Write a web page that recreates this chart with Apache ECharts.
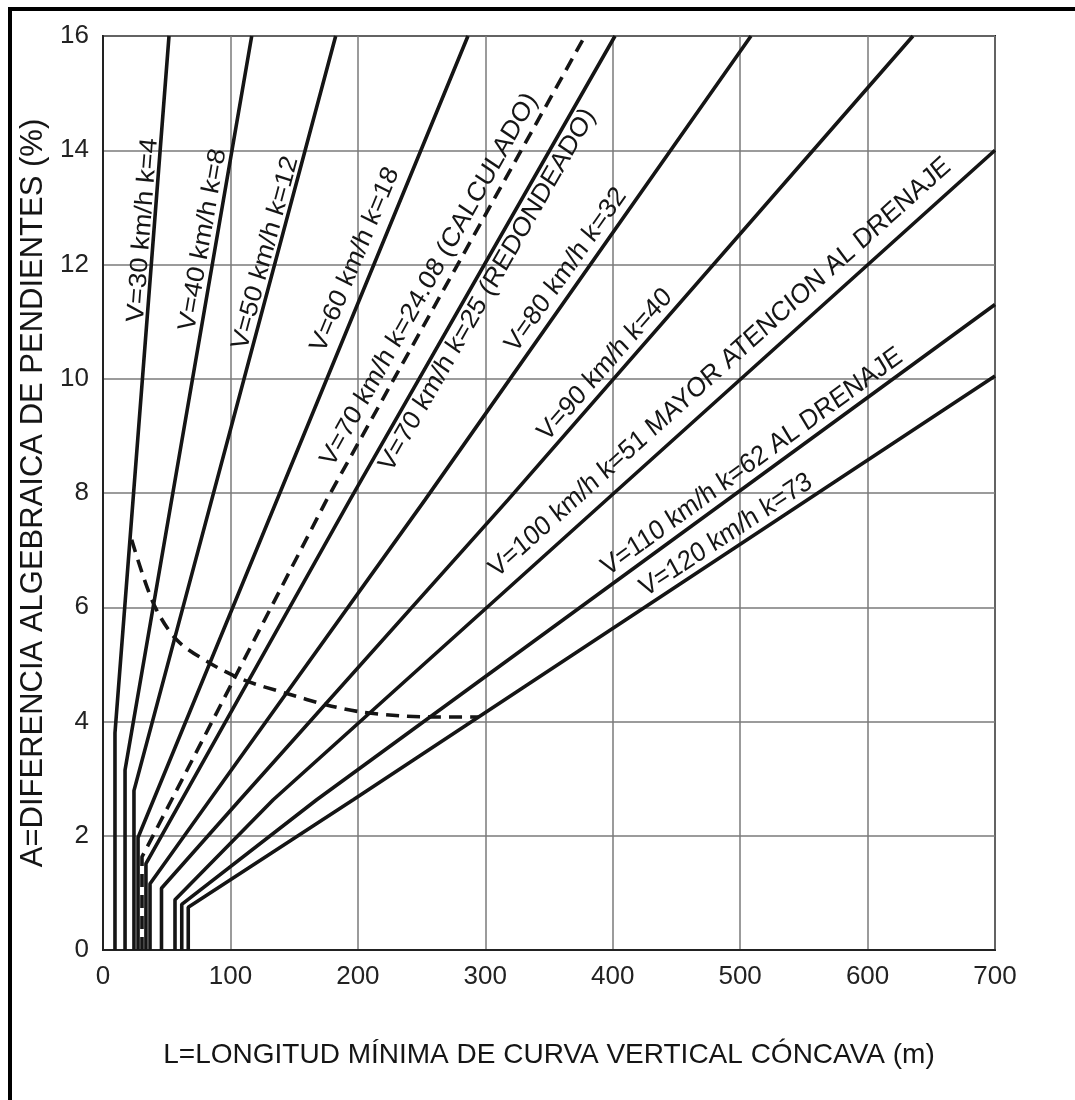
<!DOCTYPE html>
<html><head><meta charset="utf-8">
<script src="https://cdn.jsdelivr.net/npm/echarts@6/dist/echarts.min.js"></script>
<style>html,body{margin:0;padding:0;background:#fff}#c{width:1075px;height:1100px}</style>
</head><body><div id="c"></div>
<script>
// ---- data (L in m, A in %) ----
const xTicks = [0, 100, 200, 300, 400, 500, 600, 700];
const yTicks = [0, 2, 4, 6, 8, 10, 12, 14, 16];
const v30  = [[9.4, 0], [9.4, 3.8], [51.8, 16]];
const v40  = [[17.3, 0], [17.3, 3.15], [116.7, 16]];
const v50  = [[24.3, 0], [24.3, 2.79], [182.6, 16]];
const v60  = [[27.5, 0], [27.5, 1.97], [286.4, 16]];
const v70c = [[30.6, 0], [30.6, 1.63], [53.9, 2.63], [175.5, 7.88], [378.2, 16]];
const v70  = [[33.7, 0], [33.7, 1.51], [61.8, 2.63], [193.8, 7.88], [401.8, 16]];
const v80  = [[36.9, 0], [36.9, 1.16], [84, 2.63], [252.7, 7.88], [508.5, 16]];
const v90  = [[45.9, 0], [45.9, 1.08], [107.5, 2.63], [317.8, 7.88], [635.6, 16]];
const v100 = [[56.5, 0], [56.5, 0.88], [133.6, 2.63], [700, 14.0]];
const v110 = [[61.8, 0], [61.8, 0.8], [167.7, 2.63], [700, 11.3]];
const v120 = [[66.9, 0], [66.9, 0.75], [196.4, 2.63], [700, 10.05]];
const limitCurve = [[22.5, 7.18], [39.5, 6.07], [57.8, 5.43], [84.0, 5.02], [110.1, 4.73], [144.2, 4.49],
  [175.5, 4.29], [201.7, 4.17], [233.1, 4.10], [259.0, 4.08], [295, 4.08]];
const lineNames = ['V=30 km/h k=4', 'V=40 km/h k=8', 'V=50 km/h k=12', 'V=60 km/h k=18',
  'V=70 km/h k=24.08 (CALCULADO)', 'V=70 km/h k=25 (REDONDEADO)', 'V=80 km/h k=32', 'V=90 km/h k=40',
  'V=100 km/h k=51 MAYOR ATENCION AL DRENAJE', 'V=110 km/h k=62 AL DRENAJE', 'V=120 km/h k=73'];
const xTitle = 'L=LONGITUD MÍNIMA DE CURVA VERTICAL CÓNCAVA (m)';
const yTitle = 'A=DIFERENCIA ALGEBRAICA DE PENDIENTES (%)';

// ---- layout / style ----
const lines = [v30, v40, v50, v60, v70c, v70, v80, v90, v100, v110, v120];
const dashed = [false, false, false, false, true, false, false, false, false, false, false];
// label centres (placement only, in axis units)
const labelCenter = [[31.4, 12.6], [78.5, 12.43], [127.5, 12.2], [197.8, 12.08], [256, 11.73],
  [301.7, 11.55], [363.3, 11.9], [394, 10.24], [484.2, 10.19], [509.3, 8.54], [488.9, 7.26]];
const STRETCH = 1.1;
const FONT = '"Liberation Sans", Arial, sans-serif';
const INK = '#151515';

const chart = echarts.init(document.getElementById('c'));
const series = lines.map((d, i) => ({
  type: 'line', data: d, showSymbol: false, silent: true, animation: false,
  lineStyle: { color: INK, width: 3.6, type: dashed[i] ? [13, 8] : 'solid', cap: 'butt' }
}));
series.push({
  type: 'line', data: limitCurve, showSymbol: false, smooth: 0.3, silent: true, animation: false,
  lineStyle: { color: INK, width: 3.6, type: [13, 8] }
});

chart.setOption({
  animation: false,
  backgroundColor: '#fff',
  grid: { left: 103, top: 36, right: 80, bottom: 150, show: true, borderColor: '#222', borderWidth: 2 },
  xAxis: {
    type: 'value', min: 0, max: 700, interval: 100,
    name: xTitle, nameLocation: 'middle', nameGap: 91,
    nameTextStyle: { fontFamily: FONT, fontSize: 28, color: INK },
    axisLine: { show: true, lineStyle: { color: '#222', width: 2 } },
    axisTick: { show: false },
    axisLabel: { fontFamily: FONT, fontSize: 26, color: '#222', margin: 14 },
    splitLine: { show: true, lineStyle: { color: '#7a7a7a', width: 1.5 } }
  },
  yAxis: {
    type: 'value', min: 0, max: 16, interval: 2,
    name: yTitle, nameLocation: 'middle', nameGap: 48,
    nameTextStyle: { fontFamily: FONT, fontSize: 31, color: INK },
    axisLine: { show: true, lineStyle: { color: '#222', width: 2 } },
    axisTick: { show: false },
    axisLabel: { fontFamily: FONT, fontSize: 26, color: '#222', margin: 14 },
    splitLine: { show: true, lineStyle: { color: '#7a7a7a', width: 1.5 } }
  },
  series
});

const graphics = [
  { type: 'line', shape: { x1: 10, y1: 7, x2: 10, y2: 1100 }, style: { stroke: '#000', lineWidth: 4 } },
  { type: 'line', shape: { x1: 8, y1: 9, x2: 1075, y2: 9 }, style: { stroke: '#000', lineWidth: 4 } }
];
lines.forEach((d, i) => {
  const pa = chart.convertToPixel({ gridIndex: 0 }, d[d.length - 2]);
  const pb = chart.convertToPixel({ gridIndex: 0 }, d[d.length - 1]);
  const theta = Math.atan2((pa[1] - pb[1]) / STRETCH, pb[0] - pa[0]);
  const c = chart.convertToPixel({ gridIndex: 0 }, labelCenter[i]);
  graphics.push({
    type: 'group', x: c[0], y: c[1], scaleY: STRETCH, silent: true,
    children: [{
      type: 'text', rotation: theta, silent: true,
      style: { text: lineNames[i], x: 0, y: 0, align: 'center', verticalAlign: 'middle',
        textAlign: 'center', textVerticalAlign: 'middle', font: '25px ' + FONT, fill: INK }
    }]
  });
});
chart.setOption({ graphic: graphics });
</script></body></html>
